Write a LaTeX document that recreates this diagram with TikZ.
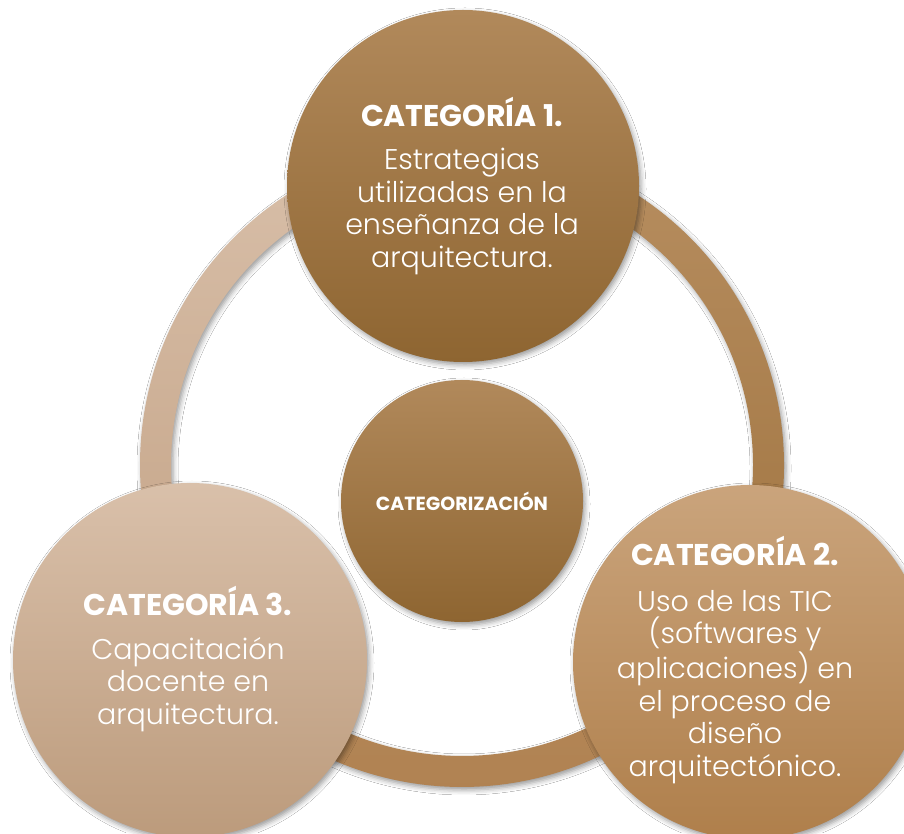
\documentclass[tikz,border=0pt]{standalone}
\usepackage{fontspec}
\setmainfont{Poppins}
\IfFontExistsTF{Poppins Light}{\newfontfamily\bodyfont{Poppins Light}}{\newfontfamily\bodyfont{Poppins}}
\newfontfamily\headfont{Poppins}
\usetikzlibrary{shadows.blur}
\definecolor{darkTop}{HTML}{B1895B}
\definecolor{darkBot}{HTML}{8E6531}
\definecolor{lightTop}{HTML}{D9C0AA}
\definecolor{lightBot}{HTML}{BC9B7C}
\definecolor{midTop}{HTML}{CAA47C}
\definecolor{midBot}{HTML}{AF7F4B}
\definecolor{arcLTop}{HTML}{D8BFA9}
\definecolor{arcLBot}{HTML}{C4A386}
\definecolor{arcRTop}{HTML}{B78E60}
\definecolor{arcRBot}{HTML}{A07440}
\definecolor{arcBTop}{HTML}{B58858}
\definecolor{arcBBot}{HTML}{B08252}
\begin{document}
\begin{tikzpicture}[x=1pt,y=1pt,
  softshadow/.style={blur shadow={shadow xshift=2pt,shadow yshift=-3pt,shadow blur radius=5pt,shadow opacity=40}},
  disc/.style={circle,inner sep=0pt,minimum size=#1,draw=none,softshadow},
  arcband/.style={draw=none,softshadow},
  txt/.style={align=center,text=white,inner sep=0pt,font=\bodyfont\fontsize{28.5}{32.5}\selectfont}]
\clip (0,0) rectangle (904,833);
\fill[white] (0,0) rectangle (904,833);
\coordinate (ring) at (462,368);
% connecting arcs of the cycle
\path[arcband,top color=arcLTop,bottom color=arcLBot]
  ([shift={(90:322)}]ring) arc[start angle=90,end angle=215.6,radius=322]
  -- ([shift={(215.6:291)}]ring) arc[start angle=215.6,end angle=90,radius=291] -- cycle;
\path[arcband,top color=arcRTop,bottom color=arcRBot]
  ([shift={(-34.4:322)}]ring) arc[start angle=-34.4,end angle=90,radius=322]
  -- ([shift={(90:291)}]ring) arc[start angle=90,end angle=-34.4,radius=291] -- cycle;
\path[arcband,top color=arcBTop,bottom color=arcBBot]
  ([shift={(215.6:322)}]ring) arc[start angle=215.6,end angle=325.6,radius=322]
  -- ([shift={(325.6:291)}]ring) arc[start angle=325.6,end angle=215.6,radius=291] -- cycle;
% circles
\node[disc=352pt,top color=darkTop,bottom color=darkBot] (cat1) at (463,647) {};
\node[disc=354pt,top color=midTop,bottom color=midBot] (cat2) at (750,171) {};
\node[disc=354pt,top color=lightTop,bottom color=lightBot] (cat3) at (190,173) {};
\node[disc=242pt,top color=darkTop,bottom color=darkBot] (core) at (462,332) {};
% texts
\node[txt] (t1) at (462,647) {{\headfont\bfseries\fontsize{30}{32.5}\selectfont CATEGORÍA 1.}\\[11pt]Estrategias\\utilizadas en la\\enseñanza de la\\arquitectura.};
\node[txt] (t2) at (735,173) {{\headfont\bfseries\fontsize{30}{32.5}\selectfont CATEGORÍA 2.}\\[13pt]Uso de las TIC\\(softwares y\\aplicaciones) en\\el proceso de\\diseño\\arquitectónico.};
\node[txt] (t3) at (188,174) {{\headfont\bfseries\fontsize{30}{32.5}\selectfont CATEGORÍA 3.}\\[11pt]Capacitación\\docente en\\arquitectura.};
\node[txt,font=\headfont\bfseries\fontsize{19}{22}\selectfont] (t0) at (462,332) {CATEGORIZACIÓN};
\end{tikzpicture}
\end{document}
